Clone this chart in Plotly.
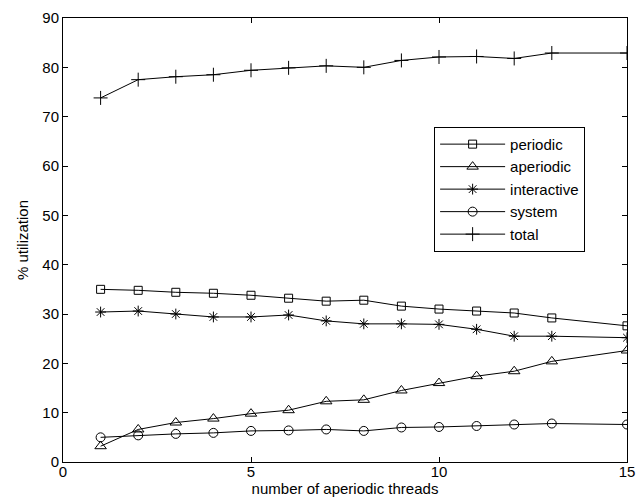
import plotly.graph_objects as go

threads = [1, 2, 3, 4, 5, 6, 7, 8, 9, 10, 11, 12, 13, 15]
periodic = [35.0, 34.8, 34.4, 34.2, 33.8, 33.2, 32.6, 32.8, 31.6, 31.0, 30.6, 30.2, 29.2, 27.6]
aperiodic = [3.2, 6.6, 8.0, 8.8, 9.8, 10.5, 12.3, 12.6, 14.5, 16.0, 17.4, 18.4, 20.4, 22.6]
interactive = [30.4, 30.6, 30.0, 29.4, 29.4, 29.8, 28.6, 28.0, 28.0, 27.9, 26.9, 25.5, 25.5, 25.2]
system = [5.0, 5.4, 5.7, 5.9, 6.3, 6.4, 6.6, 6.3, 7.0, 7.1, 7.3, 7.6, 7.8, 7.6]
total = [73.8, 77.5, 78.1, 78.5, 79.4, 79.9, 80.3, 80.0, 81.4, 82.1, 82.2, 81.8, 82.9, 82.9]

series = [
    ("periodic", periodic, "square-open", 8),
    ("aperiodic", aperiodic, "triangle-up-open", 10),
    ("interactive", interactive, "asterisk-open", 9),
    ("system", system, "circle-open", 9),
    ("total", total, "cross-thin-open", 10),
]

FONT = "Liberation Sans, Arial, sans-serif"

fig = go.Figure()
for name, vals, sym, sz in series:
    fig.add_trace(go.Scatter(
        x=threads, y=vals, name=name, mode="lines+markers",
        line=dict(color="#000000", width=1),
        marker=dict(symbol=sym, size=sz, color="#000000", line=dict(width=1, color="#000000")),
    ))

axis_common = dict(
    showgrid=False, zeroline=False, showline=True, linecolor="black", linewidth=1,
    mirror="ticks", ticks="inside", ticklen=5, tickcolor="black", automargin=False,
    tickfont=dict(family=FONT, size=15, color="black"),
)

fig.update_layout(
    width=638, height=497,
    margin=dict(l=63, r=11, t=18, b=35),
    paper_bgcolor="white", plot_bgcolor="white",
    font=dict(family=FONT, color="black"),
    xaxis=dict(range=[0, 15], tickvals=[0, 5, 10, 15], ticklabelstandoff=-4,
               title=dict(text="number of aperiodic threads", font=dict(size=15), standoff=0),
               **axis_common),
    yaxis=dict(range=[0, 90], tickvals=list(range(0, 91, 10)),
               title=dict(text="% utilization", font=dict(size=15), standoff=10),
               **axis_common),
    legend=dict(x=0.658, y=0.614, xanchor="left", yanchor="middle",
                bordercolor="black", borderwidth=1, bgcolor="white",
                font=dict(size=15, color="black"), tracegroupgap=0, itemwidth=65),
    showlegend=True,
)

fig.write_html("out.html")
